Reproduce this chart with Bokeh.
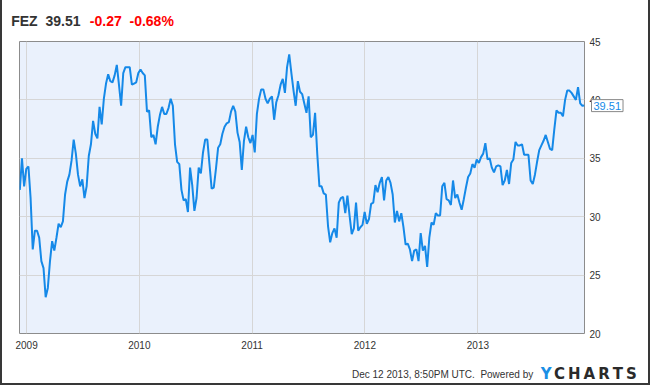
import pandas as pd
from bokeh.plotting import figure
from bokeh.models import Range1d, FixedTicker, Label, DatetimeTickFormatter
from bokeh.embed import file_html
from bokeh.resources import INLINE

# ---------------- data ----------------
NB = "\u00a0"
header_main = "FEZ" + NB + NB + "39.51"
header_change = "-0.27" + NB + NB + "-0.68%"
last_price_text = "39.51"
footer_text = "Dec 12 2013, 8:50PM UTC." + NB + NB + "Powered by"
brand_first = "Y"
brand_rest = "\u2009".join("CHARTS")

start_date = "2008-12-10"
end_date = "2013-12-12"
prices = [
    32.3, 35.0, 32.6, 34.1, 34.3, 31.6, 27.2, 28.8, 28.8, 28.2,
    26.2, 25.6, 23.1, 23.9, 26.2, 27.9, 27.1, 28.2, 29.4, 29.1,
    29.6, 31.9, 33.0, 33.6, 34.8, 36.6, 35.4, 33.6, 32.6, 33.2,
    31.6, 32.6, 35.2, 36.2, 38.2, 37.1, 36.7, 39.4, 37.9, 40.1,
    41.4, 42.2, 41.6, 41.5, 42.1, 43.0, 41.3, 39.5, 42.3, 42.8,
    42.8, 42.8, 41.3, 41.4, 41.5, 42.3, 42.6, 42.3, 42.1, 39.0,
    39.1, 36.8, 37.0, 36.2, 37.7, 38.7, 39.4, 38.8,
    38.8, 39.3, 40.1, 39.5, 36.2, 34.7, 34.5, 32.3, 31.4, 31.5,
    30.4, 34.2, 32.7, 30.5, 31.6, 34.2, 33.7, 35.5, 36.6, 36.6,
    34.5, 32.4, 32.5, 34.1, 35.9, 36.2, 37.1, 37.7, 38.0, 38.1,
    39.0, 39.5, 39.0, 37.2, 36.4, 34.0, 36.5, 37.7, 36.8, 36.3,
    37.0, 35.5, 38.8, 40.1, 40.9, 40.9, 40.1, 39.7, 40.1, 40.3,
    38.3, 39.8, 40.4, 41.3,
    41.8, 40.6, 42.8, 43.9, 42.3, 40.8, 39.5, 41.6, 40.7, 40.5,
    39.7, 38.9, 40.3, 36.8, 37.0, 38.9, 35.4, 32.6, 32.6, 32.0,
    31.9, 29.2, 27.8, 28.6, 29.0, 28.2, 31.2, 31.6, 31.7, 30.3,
    31.8, 30.1, 28.5, 29.0, 31.2, 28.8, 29.1, 29.3, 30.4, 29.4,
    29.8, 31.1, 31.2, 32.7, 32.1, 32.9, 33.4, 31.4, 33.1, 33.4,
    32.9, 31.9, 29.5, 30.5, 29.6, 30.3, 29.1, 27.6, 27.7, 27.2,
    26.2, 27.1, 27.2, 26.2, 28.6,
    27.1, 27.5, 25.7, 28.2, 29.5, 29.3, 30.3, 30.1, 30.1, 32.6,
    32.9, 31.5, 31.4, 31.0, 33.1, 31.6, 31.9, 31.2, 30.6, 31.5,
    32.5, 33.4, 33.7, 34.5, 34.2, 34.9, 34.6, 35.1, 35.4, 36.3,
    34.9, 35.0, 34.2, 33.8, 34.3, 34.4, 34.3, 32.7, 33.1, 34.0,
    32.8, 34.6, 34.9, 36.4, 36.1, 36.1, 36.2, 35.3, 35.3, 35.3,
    33.1, 32.8, 33.6, 34.7, 35.7, 36.1, 36.5, 37.0, 36.4, 35.8,
    35.7, 37.5, 39.1, 38.9, 38.9, 38.6, 40.0, 40.8, 40.8, 40.6,
    40.3, 40.0, 41.1, 39.7, 39.5, 39.51,
]
year_tick_dates = ["2009-01-01", "2010-01-01", "2011-01-01", "2012-01-01", "2013-01-01"]
year_tick_labels = ["2009", "2010", "2011", "2012", "2013"]
price_ticks = [20, 25, 30, 35, 40, 45]
x_start, x_end = "2008-12-09", "2013-12-12"
y_start, y_end = 20, 45

# ---------------- styling ----------------
BLUE = "#1589E8"
DARK = "#333333"
RED = "#FF0000"
FONT = "Liberation Sans"

dates = pd.date_range(start_date, end_date, periods=len(prices))

FIG_W, FIG_H = 650, 385
FL, FR, FT, FB = 19, 584, 41, 333   # frame box in page pixels

p = figure(
    width=FIG_W, height=FIG_H,
    x_axis_type="datetime", y_axis_location="right",
    x_range=Range1d(pd.Timestamp(x_start), pd.Timestamp(x_end)),
    y_range=Range1d(y_start, y_end),
    min_border_left=FL, min_border_right=FIG_W - FR,
    min_border_top=FT, min_border_bottom=FIG_H - FB,
    output_backend="svg", toolbar_location=None,
)
p.title.visible = False
p.styles = {"box-shadow": "inset 2px 0 0 0 #383838, inset -2px 0 0 0 #383838, inset 0 -2px 0 0 #383838"}
p.background_fill_color = "#EAF1FC"
p.border_fill_color = None
p.outline_line_color = "#8C8C8C"
p.outline_line_width = 1

tick_ms = [pd.Timestamp(d).value / 1e6 for d in year_tick_dates]
xa = p.xaxis[0]
xa.ticker = FixedTicker(ticks=tick_ms)
xa.formatter = DatetimeTickFormatter(years="%Y", months="%Y", days="%Y", hours="%Y")
xa.major_label_overrides = {t: lab for t, lab in zip(tick_ms, year_tick_labels)}
xa.axis_line_color = None
xa.major_tick_line_color = None
xa.minor_tick_line_color = None
xa.major_tick_out = 0
xa.major_tick_in = 0
xa.minor_tick_out = 0
xa.major_label_standoff = 7
xa.major_label_text_font = FONT
xa.major_label_text_font_size = "10px"
xa.major_label_text_color = DARK

ya = p.yaxis[0]
ya.ticker = FixedTicker(ticks=price_ticks)
ya.axis_line_color = None
ya.major_tick_line_color = None
ya.minor_tick_line_color = None
ya.major_tick_out = 0
ya.major_tick_in = 0
ya.minor_tick_out = 0
ya.major_label_standoff = 5
ya.major_label_text_font = FONT
ya.major_label_text_font_size = "10px"
ya.major_label_text_color = DARK

p.xgrid.grid_line_color = "#D6D6D6"
p.ygrid.grid_line_color = "#D6D6D6"

p.line(dates, prices, line_color=BLUE, line_width=2)

# page pixel -> data coordinates (for placing annotations outside the frame)
X0 = pd.Timestamp(x_start).value / 1e6
X1 = pd.Timestamp(x_end).value / 1e6
def dx(px):
    return X0 + (px - FL) / (FR - FL) * (X1 - X0)
def dy(py):
    return y_end - (py - FT) / (FB - FT) * (y_end - y_start)

def side_text(side, px, py, text, color, size, bold=False, align="left", font=FONT):
    p.add_layout(Label(x=dx(px), y=dy(py), text=text, text_color=color, text_font=font,
                       text_font_size=size, text_font_style="bold" if bold else "normal",
                       text_align=align, text_baseline="middle"), side)

side_text("above", 10.7, 20.8, header_main, DARK, "14px", bold=True)
side_text("above", 89.3, 20.8, header_change, RED, "14px", bold=True)

side_text("below", 532.7, 373.8, footer_text, DARK, "10px", align="right")
side_text("below", 553.5, 373.0, brand_rest, "#2A2A2A", "15px", bold=True, align="left",
          font="DejaVu Sans")
side_text("right", 545.8, 373.0, brand_first, "#1A8FE5", "15px", bold=True, align="center",
          font="DejaVu Sans")

# last value box
p.add_layout(Label(x=dates[-1], y=prices[-1], x_offset=7, text=last_price_text,
                   text_color=BLUE, text_font=FONT, text_font_size="11px",
                   text_baseline="middle", text_align="left",
                   background_fill_color="white", border_line_color="#888888",
                   padding=2), "right")

open("out.html", "w").write(file_html(p, INLINE))
